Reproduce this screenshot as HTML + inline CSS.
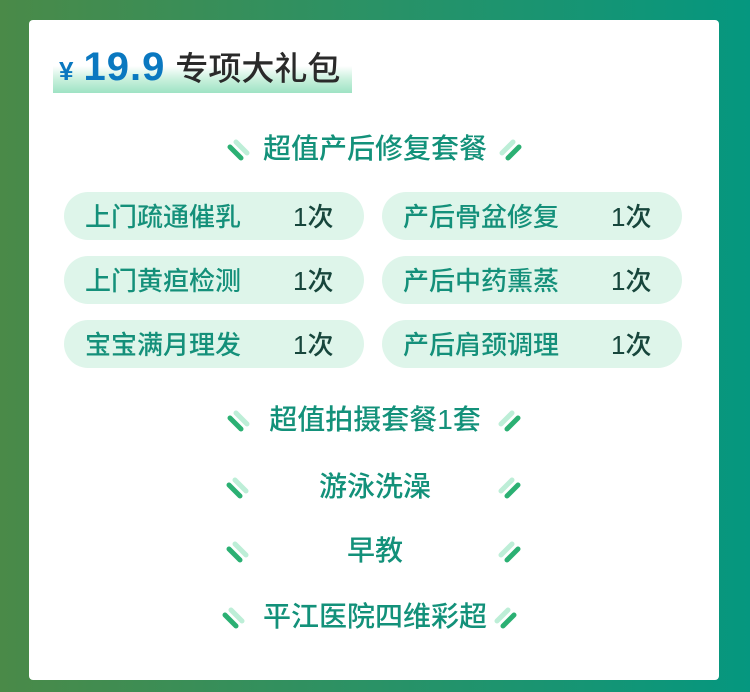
<!DOCTYPE html>
<html><head><meta charset="utf-8"><style>
*{margin:0;padding:0;box-sizing:border-box}
body{width:750px;height:692px;overflow:hidden;background:linear-gradient(90deg,#4a8a48 0%,#2a9266 50%,#05977f 100%);position:relative;font-family:"Liberation Sans","Noto Sans CJK SC",sans-serif}
.card{position:absolute;left:29px;top:20px;width:690px;height:660px;background:#fff;border-radius:4px}
.hl{position:absolute;left:53px;top:66px;width:299px;height:27px;background:linear-gradient(180deg,rgba(255,255,255,0) 0%,#c8f0dc 50%,#9ee3c4 100%)}
.title{position:absolute;left:59px;top:43px;white-space:nowrap;line-height:48px}
.yen{color:#0a78c0;font-size:26px;font-weight:bold}
.num{color:#0a78c0;font-size:40px;font-weight:bold;margin-left:10px;letter-spacing:1px}
.tt{color:#2a2a2a;font-size:33px;margin-left:10px;font-weight:500}
.h{position:absolute;left:0;width:750px;text-align:center;color:#13917a;font-size:28px;font-weight:500;line-height:30px}
.pill{position:absolute;width:300px;height:48px;border-radius:24px;background:#def5ea}
.pill .a{position:absolute;left:21px;top:1px;line-height:48px;font-size:26px;color:#14907a;font-weight:500}
.pill .b{position:absolute;left:229px;top:1px;line-height:48px;font-size:26px;color:#17463c;font-weight:500}
</style></head><body>
<div class="card"></div>
<div class="hl"></div>
<div class="title"><span class="yen">¥</span><span class="num">19.9</span><span class="tt">专项大礼包</span></div>

<div class="h" style="top:134px">超值产后修复套餐</div>
<div class="pill" style="left:64px;top:192px"><span class="a">上门疏通催乳</span><span class="b">1次</span></div>
<div class="pill" style="left:382px;top:192px"><span class="a">产后骨盆修复</span><span class="b">1次</span></div>
<div class="pill" style="left:64px;top:256px"><span class="a">上门黄疸检测</span><span class="b">1次</span></div>
<div class="pill" style="left:382px;top:256px"><span class="a">产后中药熏蒸</span><span class="b">1次</span></div>
<div class="pill" style="left:64px;top:320px"><span class="a">宝宝满月理发</span><span class="b">1次</span></div>
<div class="pill" style="left:382px;top:320px"><span class="a">产后肩颈调理</span><span class="b">1次</span></div>

<div class="h" style="top:405px">超值拍摄套餐1套</div>
<div class="h" style="top:472px">游泳洗澡</div>
<div class="h" style="top:536px">早教</div>
<div class="h" style="top:602px">平江医院四维彩超</div>

<svg width="750" height="692" style="position:absolute;left:0;top:0">
<defs>
<g id="L"><line x1="9" y1="3" x2="20" y2="14" stroke="#bdeed7" stroke-width="5" stroke-linecap="round"/><line x1="3" y1="8" x2="14" y2="19" stroke="#2bb073" stroke-width="5" stroke-linecap="round"/></g>
<g id="R"><line x1="4" y1="14" x2="15" y2="3" stroke="#bdeed7" stroke-width="5" stroke-linecap="round"/><line x1="10" y1="19" x2="21" y2="8" stroke="#2bb073" stroke-width="5" stroke-linecap="round"/></g>
</defs>
<use href="#L" x="227" y="139"/><use href="#R" x="498" y="139"/>
<use href="#L" x="227" y="410"/><use href="#R" x="497" y="410"/>
<use href="#L" x="226" y="477"/><use href="#R" x="497" y="477"/>
<use href="#L" x="226" y="541"/><use href="#R" x="497" y="541"/>
<use href="#L" x="222" y="607"/><use href="#R" x="493" y="607"/>
</svg>
</body></html>
